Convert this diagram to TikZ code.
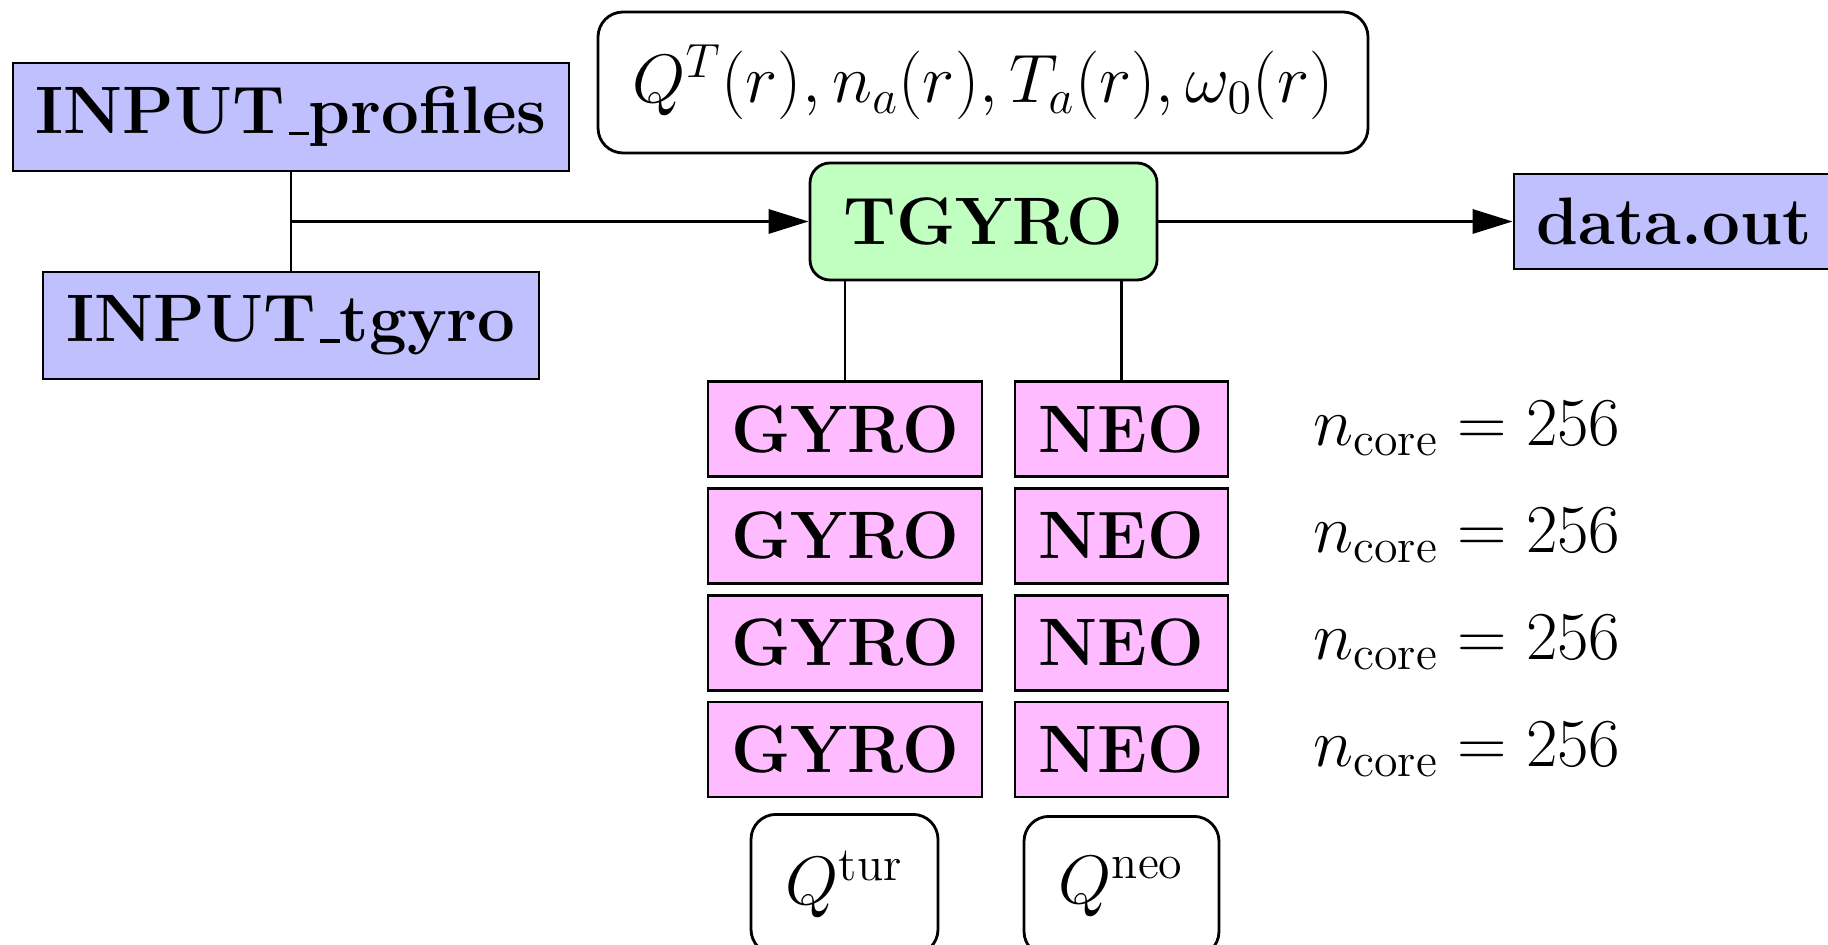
\RequirePackage{fix-cm}
\documentclass[tikz,border=0pt]{standalone}
\usepackage{amsmath}
\usetikzlibrary{arrows.meta,positioning}
\definecolor{fileblue}{RGB}{192,192,255}
\definecolor{codegreen}{RGB}{192,255,192}
\definecolor{runpink}{RGB}{255,187,255}
\newcommand{\lowbar}{\kern.06em\rule[-0.3pt]{.3em}{1pt}}

\begin{document}
\begin{tikzpicture}[
      font=\fontsize{19.1}{23}\selectfont\bfseries,
      node distance=0.09cm,
      mth/.style={font=\fontsize{19.5}{23}\selectfont},
      fil/.style={draw=black, line width=0.8pt, fill=fileblue, inner sep=0pt},
      code/.style={draw=black, line width=0.8pt, fill=codegreen, rounded corners=0.2cm,
                   inner sep=0pt, minimum width=3.47cm, minimum height=1.17cm},
      run/.style={draw=black, line width=0.8pt, fill=runpink, inner sep=0pt, minimum height=0.95cm},
      res/.style={mth, draw=black, line width=0.8pt, rounded corners=0.25cm, inner sep=0pt},
      qbox/.style={res, anchor=north, minimum height=1.40cm},
      ln/.style={draw=black, line width=0.8pt},
      fl/.style={-{Triangle[length=4mm,width=2.4mm]}, draw=black, line width=0.9pt}
    ]
    \useasboundingbox (0,0) rectangle (18.28,-9.45);

    \node[fil, minimum width=5.56cm, minimum height=1.08cm] (prof) at (2.91,-1.17) {INPUT\lowbar profiles};
    \node[fil, minimum width=4.96cm, minimum height=1.07cm] (tgin) at (2.91,-3.255) {INPUT\lowbar tgyro};
    \coordinate (join) at (2.91,-2.215);

    \node[res, minimum width=7.70cm, minimum height=1.41cm] (prf) at (9.83,-0.825)
      {$Q^T(r), n_a(r), T_a(r), \omega_0(r)$};
    \node[code] (tg) at (9.835,-2.215) {TGYRO};
    \node[fil, minimum width=3.20cm, minimum height=0.95cm] (out) at (16.74,-2.215) {data.out};

    % transport and neoclassical runs
    \node[run, minimum width=2.74cm] (g1) at (8.45,-4.29) {GYRO};
    \node[run, minimum width=2.74cm, below=of g1] (g2) {GYRO};
    \node[run, minimum width=2.74cm, below=of g2] (g3) {GYRO};
    \node[run, minimum width=2.74cm, below=of g3] (g4) {GYRO};
    \node[run, minimum width=2.13cm] (n1) at (11.215,-4.29) {NEO};
    \node[run, minimum width=2.13cm, below=of n1] (n2) {NEO};
    \node[run, minimum width=2.13cm, below=of n2] (n3) {NEO};
    \node[run, minimum width=2.13cm, below=of n3] (n4) {NEO};

    \coordinate (cx) at (14.67,0);
    \node[mth] (c1) at (cx |- n1) {$n_{\text{core}} = 256$};
    \node[mth] (c2) at (cx |- n2) {$n_{\text{core}} = 256$};
    \node[mth] (c3) at (cx |- n3) {$n_{\text{core}} = 256$};
    \node[mth] (c4) at (cx |- n4) {$n_{\text{core}} = 256$};

    \node[qbox, minimum width=1.87cm] (qt) at (8.445,-8.13) {$Q^{\text{tur}}$};
    \node[qbox, minimum width=1.95cm] (qn) at (11.215,-8.15) {$Q^{\text{neo}}$};

    \draw[ln] (prof) -- (tgin);
    \draw[fl] (join) -- (tg);
    \draw[fl] (tg) -- (out);
    \draw[ln] (tg.south -| g1) -- (g1);
    \draw[ln] (tg.south -| n1) -- (n1);
  \end{tikzpicture}
\end{document}
